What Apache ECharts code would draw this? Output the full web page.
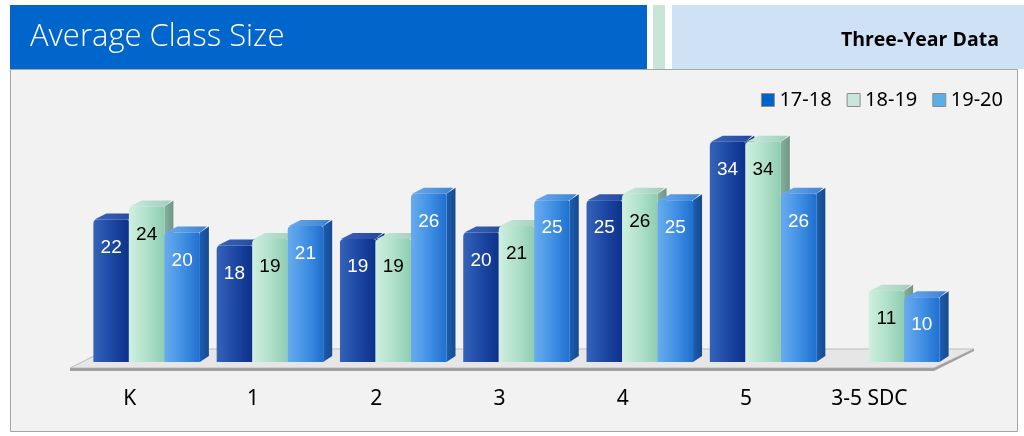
<!DOCTYPE html>
<html><head><meta charset="utf-8">
<script src="https://cdn.jsdelivr.net/npm/echarts@6/dist/echarts.min.js"></script>
<style>html,body{margin:0;padding:0;background:#fff}#c{width:1024px;height:436px}</style>
</head><body><div id="c"></div>
<script>
const categories = ['K', '1', '2', '3', '4', '5', '3-5 SDC'];
const seriesNames = ['17-18', '18-19', '19-20'];
const values1718 = [22, 18, 19, 20, 25, 34, null];
const values1819 = [24, 19, 19, 21, 26, 34, 11];
const values1920 = [20, 21, 26, 25, 25, 26, 10];
const titleText = 'Average Class Size';
const subtitleText = 'Three-Year Data';

const seriesValues = [values1718, values1819, values1920];

const STYLES = [
  { legend: '#0063C8', front: ['#3563B9', '#1B46A2', '#0D318A'], top: ['#3A64B8', '#23489C'], side: ['#0E3182', '#0A2766'], label: '#ffffff' },
  { legend: '#C8E6DA', front: ['#CFEFE0', '#AEDFC8', '#8ECDB1'], top: ['#C8EBDB', '#A2CDB9'], side: ['#88B09E', '#6F9684'], label: '#000000' },
  { legend: '#5BAEE6', front: ['#68ACEF', '#3F8EE3', '#1F6FCF'], top: ['#6AAAEC', '#3D83D4'], side: ['#1D5DB0', '#154A8E'], label: '#ffffff' }
];

function makeRender(slot) {
  const st = STYLES[slot];
  return function (params, api) {
    const v = api.value(1);
    if (v == null || isNaN(v)) return null;
    const ci = api.value(0);
    const b = api.coord([ci, 0]);
    const t = api.coord([ci, v]);
    const cw = api.size([1, 0])[0];
    const bw = cw * 0.288;
    const cx = b[0] + (slot - 1) * bw;
    const x0 = cx - bw / 2, x1 = cx + bw / 2;
    const yb = b[1], yt = t[1];
    const dx = 9, dy = -6;
    return {
      type: 'group',
      children: [
        { type: 'polygon', shape: { points: [[x1, yt], [x1 + dx, yt + dy], [x1 + dx, yb + dy], [x1, yb]] },
          style: { fill: new echarts.graphic.LinearGradient(0, 0, 1, 0, [{ offset: 0, color: st.side[0] }, { offset: 1, color: st.side[1] }]) } },
        { type: 'polygon', shape: { points: [[x0 + 1, yt], [x0 + 4 + dx, yt + dy], [x1 + dx - 2, yt + dy], [x1, yt]] },
          style: { fill: new echarts.graphic.LinearGradient(0, 0, 1, 0, [{ offset: 0, color: st.top[0] }, { offset: 1, color: st.top[1] }]) } },
        { type: 'rect', shape: { x: x0, y: yt, width: bw, height: yb - yt, r: [4, 2, 0, 0] },
          style: { fill: new echarts.graphic.LinearGradient(0, 0, 1, 0, [
            { offset: 0, color: st.front[0] }, { offset: 0.55, color: st.front[1] }, { offset: 1, color: st.front[2] }]) } },
        { type: 'text', style: { text: String(v), x: cx, y: yt + 28, align: 'center', verticalAlign: 'middle',
          fill: st.label, font: '19px "Liberation Sans", Arial, sans-serif' } }
      ]
    };
  };
}

function renderFloor(params, api) {
  const cs = params.coordSys;
  const yb = cs.y + cs.height;
  const fy = yb + 6, by = yb - 13;
  const fl = cs.x - 15, fr = cs.x + cs.width - 14;
  const bl = fl + 38, br = fr + 40;
  return {
    type: 'group',
    children: [
      { type: 'polygon', shape: { points: [[fl, fy], [bl, by], [br, by], [fr, fy]] },
        style: { fill: '#E6E6E6', stroke: '#BDBDBD', lineWidth: 1 } },
      { type: 'polygon', shape: { points: [[fl, fy], [fr, fy], [br, by], [br, by + 2], [fr, fy + 3], [fl, fy + 3]] },
        style: { fill: '#A0A0A0' } }
    ]
  };
}

const series = [{
  type: 'custom', name: 'floor', silent: true, renderItem: renderFloor, data: [[0, 0]], z: 1
}];
seriesNames.forEach(function (n, i) {
  series.push({
    type: 'custom', name: n, renderItem: makeRender(i), z: 2 + i,
    itemStyle: { color: STYLES[i].legend },
    data: seriesValues[i].map(function (v, k) { return [k, v]; })
  });
});

const chart = echarts.init(document.getElementById('c'), null, { renderer: 'canvas' });
chart.setOption({
  animation: false,
  backgroundColor: '#ffffff',
  graphic: [
    { type: 'rect', z: -10, shape: { x: 10.5, y: 69.5, width: 1007, height: 362 }, style: { fill: '#F2F2F2', stroke: '#A5A5A5', lineWidth: 1 } },
    { type: 'rect', z: -9, shape: { x: 10, y: 5, width: 637, height: 64 }, style: { fill: '#0066CC' } },
    { type: 'rect', z: -9, shape: { x: 653, y: 5, width: 12, height: 64 }, style: { fill: '#C8E6D8' } },
    { type: 'rect', z: -9, shape: { x: 672, y: 5, width: 352, height: 64 }, style: { fill: '#CFE2F5' } },
    { type: 'text', z: -8, style: { text: titleText, x: 30, y: 37, verticalAlign: 'middle', fill: '#ffffff', font: '300 31px "Open Sans", sans-serif' } },
    { type: 'text', z: -8, style: { text: subtitleText, x: 999, y: 40, align: 'right', verticalAlign: 'middle', fill: '#000000', font: 'bold 19.5px "Open Sans", sans-serif' } }
  ],
  legend: {
    data: seriesNames, right: 16, top: 85, icon: 'rect', itemWidth: 13, itemHeight: 13, itemGap: 15,
    itemStyle: { borderColor: '#8C8C8C', borderWidth: 1 },
    textStyle: { fontSize: 20, color: '#000', fontFamily: 'Noto Sans' }
  },
  grid: { left: 85, right: 76, top: 103, bottom: 74 },
  xAxis: {
    type: 'category', data: categories,
    axisLine: { show: false }, axisTick: { show: false }, splitLine: { show: false },
    axisLabel: { interval: 0, margin: 27, padding: [0, 34, 0, 0], fontSize: 21, color: '#000', fontFamily: 'Noto Sans' }
  },
  yAxis: { type: 'value', min: 0, max: 40, show: false, splitLine: { show: false } },
  series: series
});
</script></body></html>
